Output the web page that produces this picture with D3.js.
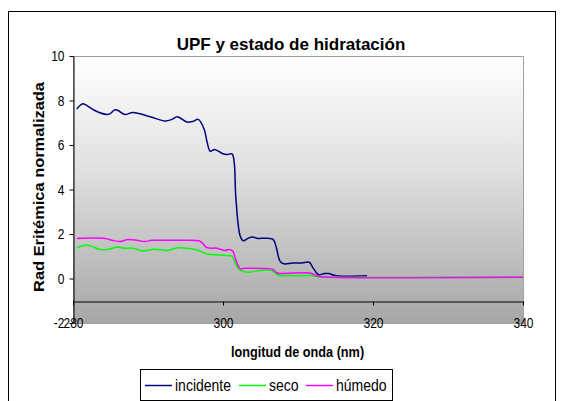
<!DOCTYPE html>
<html>
<head>
<meta charset="utf-8">
<script src="https://cdn.jsdelivr.net/npm/d3@7"></script>
<style>
  body { margin: 0; background: #fff; }
  svg { display: block; font-family: "Liberation Sans", Arial, sans-serif; }
  .axis path, .axis line { stroke: #000; }
</style>
</head>
<body>
<div id="chart"></div>
<script>
// wavelength (nm) / value pairs
var incidenteNm = [280.5, 281.3, 281.7, 282.9, 284.5, 284.9, 285.6, 286, 286.9, 288, 290.3, 292.3, 293.2, 293.9, 295.2, 296, 296.7, 297.5, 297.9, 298.3, 298.9, 299.9, 300.5, 301.2, 301.5, 301.7, 302.3, 302.7, 303.3, 303.9, 304.7, 305.6, 306.7, 307.1, 307.6, 308.1, 309.3, 310.5, 311.5, 312, 312.7, 313.5, 314.1, 315.1, 319.2];
var incidenteVal = [7.62, 7.85, 7.8, 7.55, 7.37, 7.4, 7.58, 7.55, 7.37, 7.46, 7.27, 7.08, 7.15, 7.27, 7.03, 7.06, 7.15, 6.7, 6.1, 5.72, 5.8, 5.62, 5.57, 5.6, 5.2, 3.7, 1.9, 1.7, 1.8, 1.86, 1.8, 1.81, 1.75, 1.4, 0.78, 0.66, 0.7, 0.7, 0.73, 0.48, 0.18, 0.22, 0.22, 0.12, 0.12];

var secoNm = [280.5, 281.9, 283.6, 284.5, 285.9, 286.9, 288, 289.3, 290.9, 292.5, 294, 296.3, 296.9, 297.9, 299.6, 300.5, 301.2, 301.7, 302.3, 303.3, 304.9, 306.5, 307.2, 307.6, 311.6, 312.7, 314.3, 340];
var secoVal = [1.38, 1.5, 1.3, 1.3, 1.41, 1.36, 1.36, 1.24, 1.32, 1.26, 1.38, 1.3, 1.24, 1.1, 1.06, 1.03, 1.0, 0.63, 0.36, 0.28, 0.36, 0.36, 0.18, 0.13, 0.13, 0.08, 0.06, 0.06];

var humedoNm = [280.5, 284.3, 285.2, 286.3, 287.3, 288.5, 289.6, 290.5, 291.6, 294.7, 296.9, 297.5, 297.9, 299.2, 300.3, 300.7, 301.3, 301.7, 302.3, 302.9, 305.3, 306.7, 307.2, 311.6, 312.7, 314.3, 340];
var humedoVal = [1.8, 1.8, 1.72, 1.66, 1.75, 1.72, 1.66, 1.72, 1.72, 1.72, 1.68, 1.5, 1.38, 1.36, 1.26, 1.3, 1.23, 0.85, 0.44, 0.46, 0.45, 0.4, 0.25, 0.25, 0.1, 0.06, 0.06];

var seriesNames = ["incidente", "seco", "húmedo"];
var seriesColors = ["#000080", "#00ff00", "#ff00ff"];
var xTicks = [280, 300, 320, 340];
var yTicks = [-2, 0, 2, 4, 6, 8, 10];

var series = [
  { name: seriesNames[0], nm: incidenteNm, val: incidenteVal },
  { name: seriesNames[1], nm: secoNm, val: secoVal },
  { name: seriesNames[2], nm: humedoNm, val: humedoVal }
].map(function(s) {
  return { name: s.name, points: s.nm.map(function(n, i) { return { nm: n, v: s.val[i] }; }) };
});

var W = 563, H = 401;
var plot = { left: 73, top: 56, right: 523, bottom: 323 };
var stretch = 1.2; // text in the picture is a bit taller than wide
var plain = function(d) { return String(d); }; // keep the ascii hyphen for "-2"

var svg = d3.select("#chart").append("svg")
    .attr("width", W)
    .attr("height", H);

// outer chart frame
svg.append("rect")
    .attr("x", 8.5).attr("y", 11.5)
    .attr("width", 547).attr("height", 400)
    .attr("fill", "#fff")
    .attr("stroke", "#000");

var x = d3.scaleLinear().domain([280, 340]).range([plot.left, plot.right]);
var y = d3.scaleLinear().domain([-2, 10]).range([plot.bottom, plot.top]);

// gradient for plot area
var grad = svg.append("defs").append("linearGradient")
    .attr("id", "bg").attr("x1", 0).attr("y1", 0).attr("x2", 0).attr("y2", 1);
grad.append("stop").attr("offset", "0%").attr("stop-color", "#ffffff");
grad.append("stop").attr("offset", "40%").attr("stop-color", "#e2e2e2");
grad.append("stop").attr("offset", "100%").attr("stop-color", "#a6a6a6");

svg.append("rect")
    .attr("x", plot.left + 0.5).attr("y", plot.top + 0.5)
    .attr("width", plot.right - plot.left).attr("height", plot.bottom - plot.top)
    .attr("fill", "url(#bg)")
    .attr("stroke", "#a0a0a0");

// lines
var line = d3.line()
    .x(function(d) { return x(d.nm); })
    .y(function(d) { return y(d.v); })
    .curve(d3.curveCatmullRom.alpha(0.5));

svg.append("g").selectAll("path")
    .data(series)
    .enter().append("path")
      .attr("d", function(d) { return line(d.points); })
      .attr("fill", "none")
      .attr("stroke", function(d, i) { return seriesColors[i]; })
      .attr("stroke-width", 1.5);

// x axis line crossing at y = -1, tick marks only
svg.append("g")
    .attr("class", "axis")
    .attr("transform", "translate(0," + (Math.round(y(-1)) + 0.5) + ")")
    .call(d3.axisBottom(x).tickValues(xTicks).tickSize(4).tickSizeOuter(0).tickFormat(""));

// x tick labels below the plot area
var xLab = svg.append("g")
    .attr("transform", "translate(0," + plot.bottom + ")")
    .call(d3.axisBottom(x).tickValues(xTicks).tickSize(0).tickFormat(plain));
xLab.select(".domain").remove();
xLab.selectAll("text")
    .attr("y", 0).attr("dy", 0)
    .attr("font-size", "12px").attr("fill", "#000")
    .attr("font-family", "Liberation Sans, Arial, sans-serif")
    .attr("transform", "translate(0,5) scale(1," + stretch + ")");

// y axis
var yAx = svg.append("g")
    .attr("class", "axis")
    .attr("transform", "translate(" + (plot.left + 0.5) + ",0)")
    .call(d3.axisLeft(y).tickValues(yTicks).tickSize(4).tickSizeOuter(0).tickPadding(5).tickFormat(plain));
yAx.selectAll("text")
    .attr("font-size", "12px").attr("fill", "#000")
    .attr("font-family", "Liberation Sans, Arial, sans-serif")
    .attr("transform", "scale(1," + stretch + ")");

// title
svg.append("text")
    .attr("x", 291).attr("y", 50)
    .attr("text-anchor", "middle")
    .attr("font-size", "17px").attr("font-weight", "bold")
    .text("UPF y estado de hidratación");

// axis titles
svg.append("text")
    .attr("transform", "translate(297.5,356.5) scale(1," + stretch + ")")
    .attr("text-anchor", "middle")
    .attr("font-size", "12.7px").attr("font-weight", "bold")
    .text("longitud de onda (nm)");

svg.append("text")
    .attr("transform", "translate(43.5,187) rotate(-90) scale(1.15,1)")
    .attr("text-anchor", "middle")
    .attr("font-size", "14.3px").attr("font-weight", "bold")
    .text("Rad Eritémica normalizada");

// legend
var legend = svg.append("g");
legend.append("rect")
    .attr("x", 140.5).attr("y", 369.5)
    .attr("width", 252).attr("height", 31)
    .attr("fill", "#fff").attr("stroke", "#000");

var legX = [145, 239, 306];
var item = legend.selectAll(".item")
    .data(seriesNames)
    .enter().append("g")
      .attr("class", "item")
      .attr("transform", function(d, i) { return "translate(" + legX[i] + ",385)"; });
item.append("line")
    .attr("x1", 0).attr("x2", 27)
    .attr("y1", 0.5).attr("y2", 0.5)
    .attr("stroke", function(d, i) { return seriesColors[i]; })
    .attr("stroke-width", 1.5);
item.append("text")
    .attr("transform", "translate(30,6) scale(1," + stretch + ")")
    .attr("font-size", "14px")
    .text(function(d) { return d; });
</script>
</body>
</html>
